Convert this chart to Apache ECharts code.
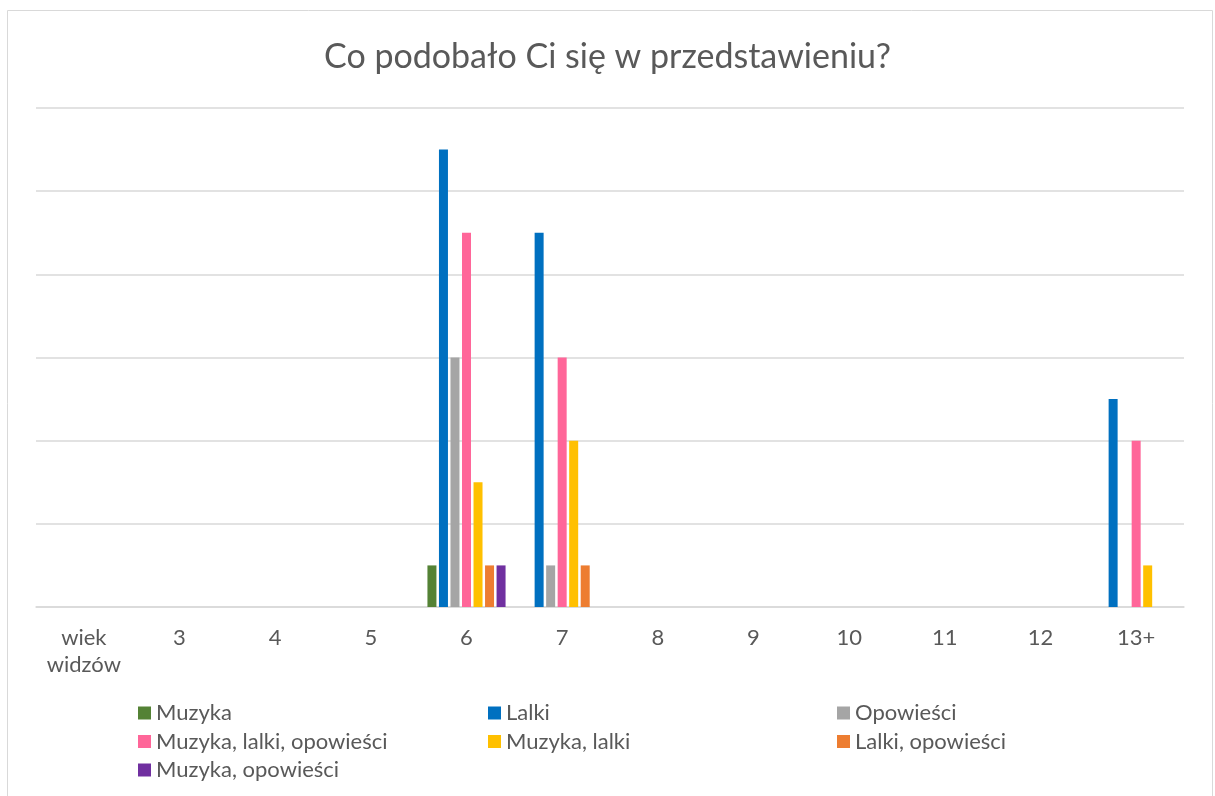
<!DOCTYPE html>
<html>
<head>
<meta charset="utf-8">
<script src="https://cdn.jsdelivr.net/npm/echarts@6/dist/echarts.min.js"></script>
<style>
  html, body { margin: 0; padding: 0; background: #fff; }
  #chart { width: 1215px; height: 796px; }
</style>
</head>
<body>
<div id="chart"></div>
<script>
// kategorie (wiek widzów)
var categories = ['wiek\nwidzów', '3', '4', '5', '6', '7', '8', '9', '10', '11', '12', '13+'];

// liczba odpowiedzi w każdej kategorii
var muzyka            = [0, 0, 0, 0, 1, 0, 0, 0, 0, 0, 0, 0];
var lalki             = [0, 0, 0, 0, 11, 9, 0, 0, 0, 0, 0, 5];
var opowiesci         = [0, 0, 0, 0, 6, 1, 0, 0, 0, 0, 0, 0];
var muzykaLalkiOpow   = [0, 0, 0, 0, 9, 6, 0, 0, 0, 0, 0, 4];
var muzykaLalki       = [0, 0, 0, 0, 3, 4, 0, 0, 0, 0, 0, 1];
var lalkiOpow         = [0, 0, 0, 0, 1, 1, 0, 0, 0, 0, 0, 0];
var muzykaOpow        = [0, 0, 0, 0, 1, 0, 0, 0, 0, 0, 0, 0];

var seriesDefs = [
    { name: 'Muzyka', data: muzyka, color: '#548235' },
    { name: 'Lalki', data: lalki, color: '#0070C0' },
    { name: 'Opowieści', data: opowiesci, color: '#A5A5A5' },
    { name: 'Muzyka, lalki, opowieści', data: muzykaLalkiOpow, color: '#FF6699' },
    { name: 'Muzyka, lalki', data: muzykaLalki, color: '#FFC000' },
    { name: 'Lalki, opowieści', data: lalkiOpow, color: '#ED7D31' },
    { name: 'Muzyka, opowieści', data: muzykaOpow, color: '#7030A0' }
];

var font = 'Lato';
var textColor = '#595959';

function legendCol(left, names) {
    return {
        orient: 'vertical',
        left: left,
        top: 697,
        itemWidth: 13,
        itemHeight: 13,
        itemGap: 6.5,
        icon: 'rect',
        data: names,
        textStyle: { color: textColor, fontFamily: font, fontSize: 22 },
        selectedMode: false
    };
}

var myChart = echarts.init(document.getElementById('chart'), null, { renderer: 'canvas' });

var option = {
    animation: false,
    title: {
        text: 'Co podobało Ci się w przedstawieniu?',
        left: 'center',
        top: 35,
        textStyle: { color: textColor, fontFamily: font, fontSize: 34, fontWeight: 'normal' }
    },
    graphic: [{
        type: 'rect',
        shape: { x: 7.5, y: 10.5, width: 1205, height: 800 },
        style: { fill: 'none', stroke: '#d9d9d9', lineWidth: 1 },
        silent: true
    }],
    legend: [
        legendCol(133, ['Muzyka', 'Muzyka, lalki, opowieści', 'Muzyka, opowieści']),
        legendCol(483, ['Lalki', 'Muzyka, lalki']),
        legendCol(832, ['Opowieści', 'Lalki, opowieści'])
    ],
    grid: { left: 36, right: 31, top: 108, bottom: 189, containLabel: false },
    xAxis: {
        type: 'category',
        data: categories,
        axisLine: { lineStyle: { color: '#d9d9d9', width: 1.5 } },
        axisTick: { show: false },
        axisLabel: {
            color: textColor, fontFamily: font, fontSize: 22,
            margin: 17, lineHeight: 27, interval: 0
        }
    },
    yAxis: {
        type: 'value',
        min: 0,
        max: 12,
        interval: 2,
        axisLabel: { show: false },
        axisLine: { show: false },
        axisTick: { show: false },
        splitLine: { lineStyle: { color: '#d9d9d9', width: 1.5 } }
    },
    series: seriesDefs.map(function (s) {
        return {
            name: s.name,
            type: 'bar',
            data: s.data,
            barWidth: 9,
            barGap: '28%',
            itemStyle: { color: s.color }
        };
    })
};

myChart.setOption(option);
</script>
</body>
</html>
